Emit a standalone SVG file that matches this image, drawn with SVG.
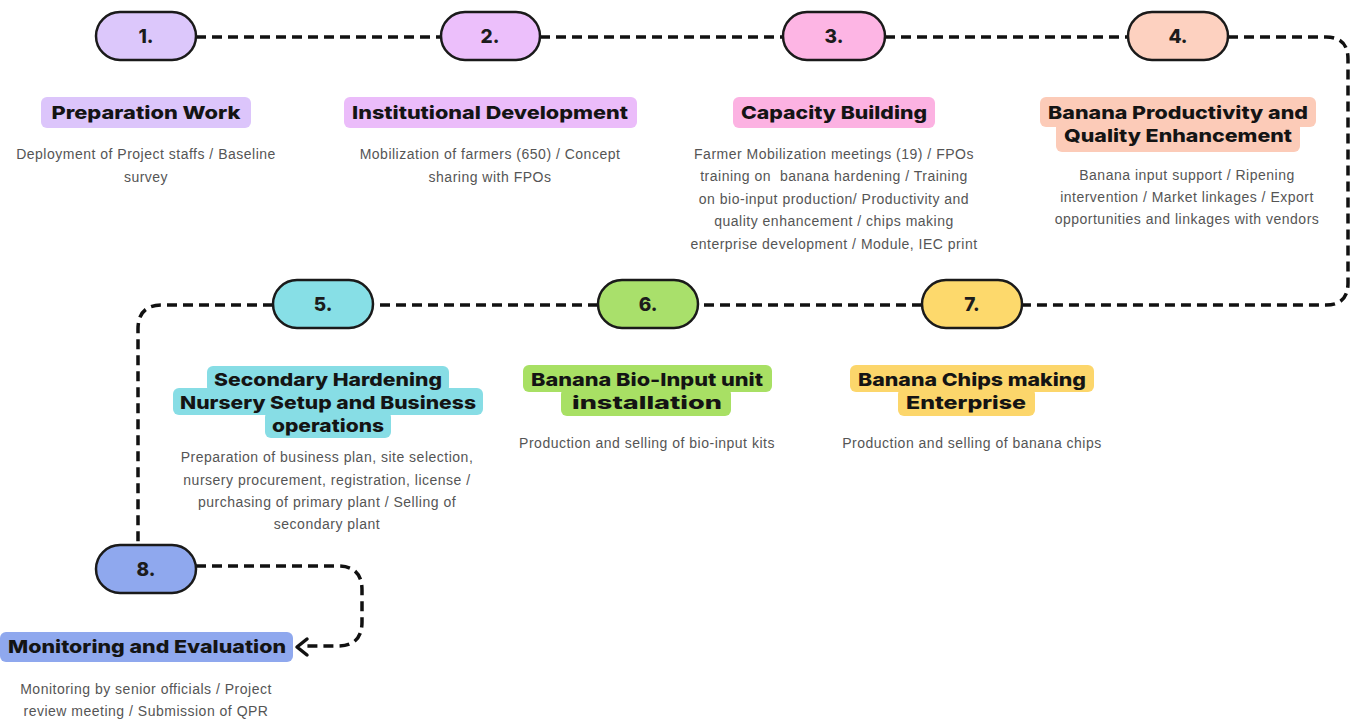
<svg xmlns="http://www.w3.org/2000/svg" width="1359" height="720" viewBox="0 0 1359 720">
<style>
.pill{stroke:#1a1a1a;stroke-width:2.5}
.num{font-family:Inter,"Liberation Sans",sans-serif;font-weight:800;font-size:19px;fill:#1c1c1c;text-anchor:middle}
.ttl{font-family:Inter,"Liberation Sans",sans-serif;font-weight:800;font-size:18px;fill:#141414;text-anchor:middle}
.dsc{font-family:"Liberation Sans",sans-serif;font-size:14px;letter-spacing:0.5px;fill:#555555;text-anchor:middle;white-space:pre}
.con{fill:none;stroke:#111;stroke-width:3.5;stroke-dasharray:10 6}
.ah{fill:none;stroke:#111;stroke-width:3.5;stroke-linecap:round;stroke-linejoin:round}
</style>
<rect width="1359" height="720" fill="#ffffff"/>
<g id="connectors">
<path class="con" d="M196,37 H441 M540,37 H783 M885,37 H1128 M1228,37 H1326 Q1348,37 1348,59 V283 Q1348,305 1326,305 H1022 M922,305 H698 M598,305 H373 M273,305 H162 Q138,305 138,329 V546"/>
<path class="con" d="M196,566 H338 Q362,566 362,590 V622 Q362,646 338,646 H302"/>
<path class="ah" d="M307,639 L297,647 L307,655"/>
</g>
<g id="n1">
<rect class="pill" x="96" y="12" width="100" height="48" rx="24" fill="#dcc7fb"/>
<text class="num" x="146" y="43">1.</text>
<rect x="41" y="97" width="210" height="31" rx="6" fill="#dcc5fb"/>
<text class="ttl" x="146" y="119" textLength="189" lengthAdjust="spacingAndGlyphs">Preparation Work</text>
<text class="dsc" x="146" y="159">Deployment of Project staffs / Baseline</text>
<text class="dsc" x="146" y="182">survey</text>
</g>
<g id="n2">
<rect class="pill" x="441" y="12" width="99" height="48" rx="24" fill="#ecbffb"/>
<text class="num" x="490" y="43">2.</text>
<rect x="344" y="97" width="293" height="31" rx="6" fill="#ebbcfa"/>
<text class="ttl" x="490" y="119" textLength="276" lengthAdjust="spacingAndGlyphs">Institutional Development</text>
<text class="dsc" x="490" y="159">Mobilization of farmers (650) / Concept</text>
<text class="dsc" x="490" y="182">sharing with FPOs</text>
</g>
<g id="n3">
<rect class="pill" x="783" y="12" width="102" height="48" rx="24" fill="#fdb5e4"/>
<text class="num" x="834" y="43">3.</text>
<rect x="733" y="97" width="202" height="31" rx="6" fill="#fcb2e2"/>
<text class="ttl" x="834" y="119" textLength="186" lengthAdjust="spacingAndGlyphs">Capacity Building</text>
<text class="dsc" x="834" y="159">Farmer Mobilization meetings (19) / FPOs</text>
<text class="dsc" x="834" y="181">training on  banana hardening / Training</text>
<text class="dsc" x="834" y="204">on bio-input production/ Productivity and</text>
<text class="dsc" x="834" y="226">quality enhancement / chips making</text>
<text class="dsc" x="834" y="249">enterprise development / Module, IEC print</text>
</g>
<g id="n4">
<rect class="pill" x="1128" y="12" width="100" height="48" rx="24" fill="#fdd1c0"/>
<text class="num" x="1178" y="43">4.</text>
<rect x="1040" y="97" width="276" height="30" rx="6" fill="#fccbb8"/>
<rect x="1056" y="120" width="244" height="32" rx="6" fill="#fccbb8"/>
<text class="ttl" x="1178" y="119" textLength="260" lengthAdjust="spacingAndGlyphs">Banana Productivity and</text>
<text class="ttl" x="1178" y="142" textLength="228" lengthAdjust="spacingAndGlyphs">Quality Enhancement</text>
<text class="dsc" x="1187" y="180">Banana input support / Ripening</text>
<text class="dsc" x="1187" y="202">intervention / Market linkages / Export</text>
<text class="dsc" x="1187" y="224">opportunities and linkages with vendors</text>
</g>
<g id="n5">
<rect class="pill" x="273" y="280" width="100" height="48" rx="24" fill="#87dfe6"/>
<text class="num" x="323" y="311">5.</text>
<rect x="207" y="366" width="242" height="27" rx="6" fill="#87dde5"/>
<rect x="173" y="388" width="310" height="27" rx="6" fill="#87dde5"/>
<rect x="265" y="411" width="126" height="27" rx="6" fill="#87dde5"/>
<text class="ttl" x="328" y="386" textLength="228" lengthAdjust="spacingAndGlyphs">Secondary Hardening</text>
<text class="ttl" x="328" y="409" textLength="296" lengthAdjust="spacingAndGlyphs">Nursery Setup and Business</text>
<text class="ttl" x="328" y="432" textLength="112" lengthAdjust="spacingAndGlyphs">operations</text>
<text class="dsc" x="327" y="462">Preparation of business plan, site selection,</text>
<text class="dsc" x="327" y="485">nursery procurement, registration, license /</text>
<text class="dsc" x="327" y="507">purchasing of primary plant / Selling of</text>
<text class="dsc" x="327" y="529">secondary plant</text>
</g>
<g id="n6">
<rect class="pill" x="598" y="280" width="100" height="48" rx="24" fill="#a9e06b"/>
<text class="num" x="648" y="311">6.</text>
<rect x="523" y="365" width="249" height="27" rx="6" fill="#a8e064"/>
<rect x="561" y="388" width="170" height="28" rx="6" fill="#a8e064"/>
<text class="ttl" x="647" y="386" textLength="232" lengthAdjust="spacingAndGlyphs">Banana Bio-Input unit</text>
<text class="ttl" x="647" y="409" textLength="150" lengthAdjust="spacingAndGlyphs">installation</text>
<text class="dsc" x="647" y="448">Production and selling of bio-input kits</text>
</g>
<g id="n7">
<rect class="pill" x="922" y="280" width="100" height="48" rx="24" fill="#fdd96c"/>
<text class="num" x="972" y="311">7.</text>
<rect x="850" y="365" width="244" height="27" rx="6" fill="#fcd66b"/>
<rect x="898" y="388" width="137" height="28" rx="6" fill="#fcd66b"/>
<text class="ttl" x="972" y="386" textLength="228" lengthAdjust="spacingAndGlyphs">Banana Chips making</text>
<text class="ttl" x="966" y="409" textLength="120" lengthAdjust="spacingAndGlyphs">Enterprise</text>
<text class="dsc" x="972" y="448">Production and selling of banana chips</text>
</g>
<g id="n8">
<rect class="pill" x="96" y="545" width="100" height="48" rx="24" fill="#8fa8ee"/>
<text class="num" x="146" y="576">8.</text>
<rect x="0" y="632" width="293" height="30" rx="6" fill="#8fa8ee"/>
<text class="ttl" x="147" y="653" textLength="278" lengthAdjust="spacingAndGlyphs">Monitoring and Evaluation</text>
<text class="dsc" x="146" y="694">Monitoring by senior officials / Project</text>
<text class="dsc" x="146" y="716">review meeting / Submission of QPR</text>
</g>
</svg>
